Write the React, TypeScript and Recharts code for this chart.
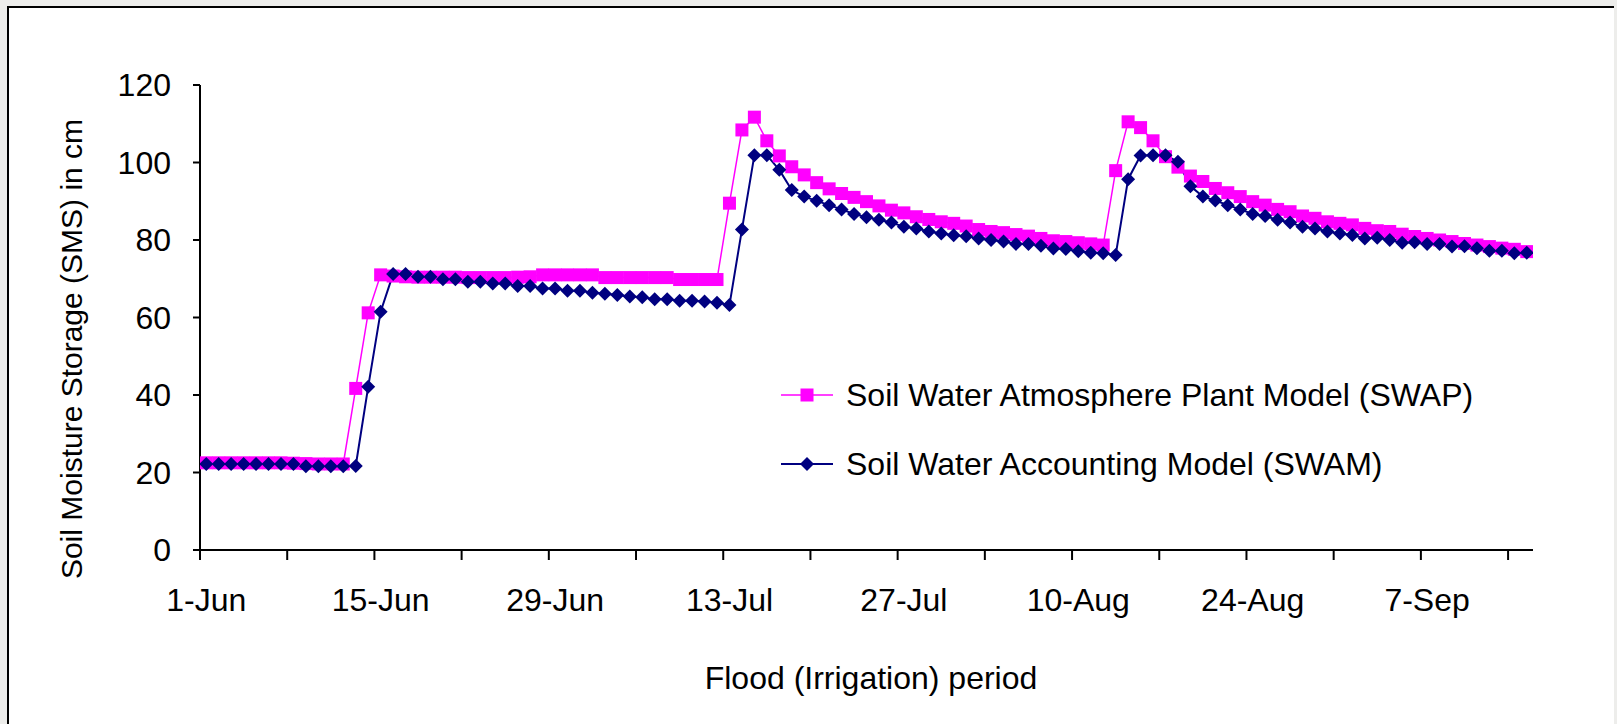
import React from "react";
import { LineChart, Line, XAxis, YAxis } from "recharts";

// daily values, 1-Jun .. 15-Sep
const swap = [
  22.5, 22.5, 22.5, 22.5, 22.5, 22.5, 22.5, 22.4, 22.3, 22.2, 22.2, 22.2,
  41.7, 61.2, 71.0,
  70.7, 70.5, 70.4, 70.4, 70.4, 70.4, 70.3, 70.3, 70.3, 70.3, 70.4, 70.5,
  71.0, 71.0, 71.0, 71.0, 71.0,
  70.3, 70.3, 70.3, 70.3, 70.3, 70.3,
  69.8, 69.8, 69.8, 69.8,
  89.5, 108.4, 111.7, 105.6, 101.7, 98.9, 96.8, 94.8, 93.2, 92.0, 91.0, 89.9, 88.8, 87.7, 87.0, 86.0,
  85.3, 84.7, 84.3, 83.6, 82.7, 82.2, 81.9, 81.4, 81.0, 80.4, 79.8, 79.6, 79.3, 79.0, 78.7,
  97.9, 110.5, 109.0, 105.6, 101.5, 98.8, 96.5, 95.1, 93.3, 92.2, 91.2, 89.9, 89.0, 87.9, 87.3, 86.2,
  85.6, 84.7, 84.3, 83.9, 83.0, 82.4, 82.2, 81.5, 80.9, 80.4, 80.0, 79.6, 79.1, 78.7, 78.3, 77.9, 77.6, 77.0,
];

const swam = [
  22.2, 22.2, 22.2, 22.2, 22.2, 22.2, 22.2, 22.2,
  21.6, 21.6, 21.6, 21.6, 21.7,
  42.1, 61.5, 71.2,
  71.2, 70.5, 70.5, 69.9, 69.9, 69.2, 69.2, 68.8, 68.8, 68.1, 68.1, 67.5, 67.5, 66.9, 66.9, 66.4,
  66.1, 65.8, 65.4, 65.2, 64.7, 64.7, 64.3, 64.3, 64.1, 63.8, 63.2,
  82.7, 101.9, 101.9, 98.1, 92.9, 91.2, 90.1, 89.0, 87.9, 86.7, 85.9, 85.2, 84.5, 83.4, 83.0, 82.2,
  81.7, 81.2, 81.0, 80.4, 80.0, 79.6, 79.0, 79.0, 78.5, 77.8, 77.7, 77.1, 76.7, 76.6, 76.1,
  95.7, 101.8, 101.9, 101.9, 100.2, 93.9, 91.2, 90.2, 89.0, 87.9, 86.7, 86.2, 85.2, 84.5, 83.4, 83.0,
  82.2, 81.7, 81.3, 80.4, 80.6, 80.0, 79.3, 79.4, 79.0, 79.0, 78.3, 78.4, 77.9, 77.2, 77.2, 76.6, 76.7,
];

const dateLabels = ["1-Jun", "15-Jun", "29-Jun", "13-Jul", "27-Jul", "10-Aug", "24-Aug", "7-Sep"];
const yTicks = [0, 20, 40, 60, 80, 100, 120];

const seriesNames = [
  "Soil Water Atmosphere Plant Model (SWAP)",
  "Soil Water Accounting Model (SWAM)",
];

const DAYS = swap.length;
const weekTicks = Array.from({ length: Math.floor(DAYS / 7) + 1 }, (_, i) => i * 7);
const labelTicks = dateLabels.map((_, i) => i * 14 + 0.5);

// each day sits in the middle of its slot, like Excel's date axis
const data = swap.map((v, i) => ({ day: i + 0.5, swap: v, swam: swam[i] }));

const FONT = '"Liberation Sans", Arial, sans-serif';
const MAGENTA = "#FF00FF";
const NAVY = "#000080";

const Square = (props: any) => {
  const { cx, cy, index } = props;
  if (cx == null || cy == null) return <g key={`sq-${index}`} />;
  return <rect key={`sq-${index}`} x={cx - 6.5} y={cy - 6.5} width={13} height={13} fill={MAGENTA} />;
};

const Diamond = (props: any) => {
  const { cx, cy, index } = props;
  if (cx == null || cy == null) return <g key={`dm-${index}`} />;
  const r = 7;
  return (
    <polygon
      key={`dm-${index}`}
      points={`${cx},${cy - r} ${cx + r},${cy} ${cx},${cy + r} ${cx - r},${cy}`}
      fill={NAVY}
    />
  );
};

const axisStroke = { stroke: "#000", strokeWidth: 2 };

export default function App() {
  return (
    <div
      style={{
        position: "absolute",
        left: 0,
        top: 0,
        width: 1617,
        height: 724,
        background: "#ededeb",
        fontFamily: FONT,
        overflow: "hidden",
      }}
    >
      {/* white frame, cut off at the bottom */}
      <div
        style={{
          position: "absolute",
          left: 7,
          top: 6,
          width: 1607,
          height: 718,
          boxSizing: "border-box",
          background: "#fff",
          borderTop: "2px solid #000",
          borderLeft: "2px solid #000",
        }}
      />

      <div style={{ position: "absolute", left: 0, top: 0 }}>
        <LineChart
          width={1617}
          height={724}
          data={data}
          margin={{ top: 85, right: 84, bottom: 113, left: 0 }}
        >
          {/* weekly tick marks only */}
          <XAxis
            xAxisId={0}
            dataKey="day"
            type="number"
            domain={[0, DAYS]}
            ticks={weekTicks}
            interval={0}
            tickFormatter={() => ""}
            height={1}
            tickSize={10}
            axisLine={axisStroke}
            tickLine={axisStroke}
            allowDataOverflow
          />
          {/* fortnightly date labels, centred on their day */}
          <XAxis
            xAxisId={1}
            dataKey="day"
            type="number"
            domain={[0, DAYS]}
            ticks={labelTicks}
            interval={0}
            tickFormatter={(v: number) => dateLabels[Math.round((v - 0.5) / 14)]}
            axisLine={false}
            tickLine={false}
            tickSize={0}
            tickMargin={37}
            height={60}
            tick={{ fill: "#000", fontSize: 32, fontFamily: FONT }}
            allowDataOverflow
          />
          <YAxis
            type="number"
            domain={[0, 120]}
            ticks={yTicks}
            interval={0}
            width={200}
            tickSize={7}
            tickMargin={22}
            axisLine={axisStroke}
            tickLine={axisStroke}
            tick={{ fill: "#000", fontSize: 32, fontFamily: FONT }}
          />
          <Line
            xAxisId={0}
            type="linear"
            dataKey="swap"
            name={seriesNames[0]}
            stroke={MAGENTA}
            strokeWidth={1.5}
            dot={Square}
            activeDot={false}
            isAnimationActive={false}
          />
          <Line
            xAxisId={0}
            type="linear"
            dataKey="swam"
            name={seriesNames[1]}
            stroke={NAVY}
            strokeWidth={2}
            dot={Diamond}
            activeDot={false}
            isAnimationActive={false}
          />
        </LineChart>
      </div>

      {/* legend */}
      {seriesNames.map((name, i) => (
        <div
          key={name}
          style={{
            position: "absolute",
            left: 781,
            top: 375 + i * 69,
            height: 40,
            display: "flex",
            alignItems: "center",
            whiteSpace: "nowrap",
          }}
        >
          <svg width={52} height={20} style={{ display: "block" }}>
            <line x1={0} y1={10} x2={52} y2={10} stroke={i === 0 ? MAGENTA : NAVY} strokeWidth={i === 0 ? 1.5 : 2} />
            {i === 0 ? (
              <rect x={19.5} y={3.5} width={13} height={13} fill={MAGENTA} />
            ) : (
              <polygon points="26,3 33,10 26,17 19,10" fill={NAVY} />
            )}
          </svg>
          <span style={{ marginLeft: 13, fontSize: 32, color: "#000" }}>{name}</span>
        </div>
      ))}

      {/* axis titles */}
      <div
        style={{
          position: "absolute",
          left: 72,
          top: 349,
          transform: "translate(-50%, -50%) rotate(-90deg)",
          whiteSpace: "nowrap",
          fontSize: 30,
          color: "#000",
        }}
      >
        Soil Moisture Storage (SMS) in cm
      </div>
      <div
        style={{
          position: "absolute",
          left: 871,
          top: 678,
          transform: "translate(-50%, -50%)",
          whiteSpace: "nowrap",
          fontSize: 32,
          color: "#000",
        }}
      >
        Flood (Irrigation) period
      </div>
    </div>
  );
}
